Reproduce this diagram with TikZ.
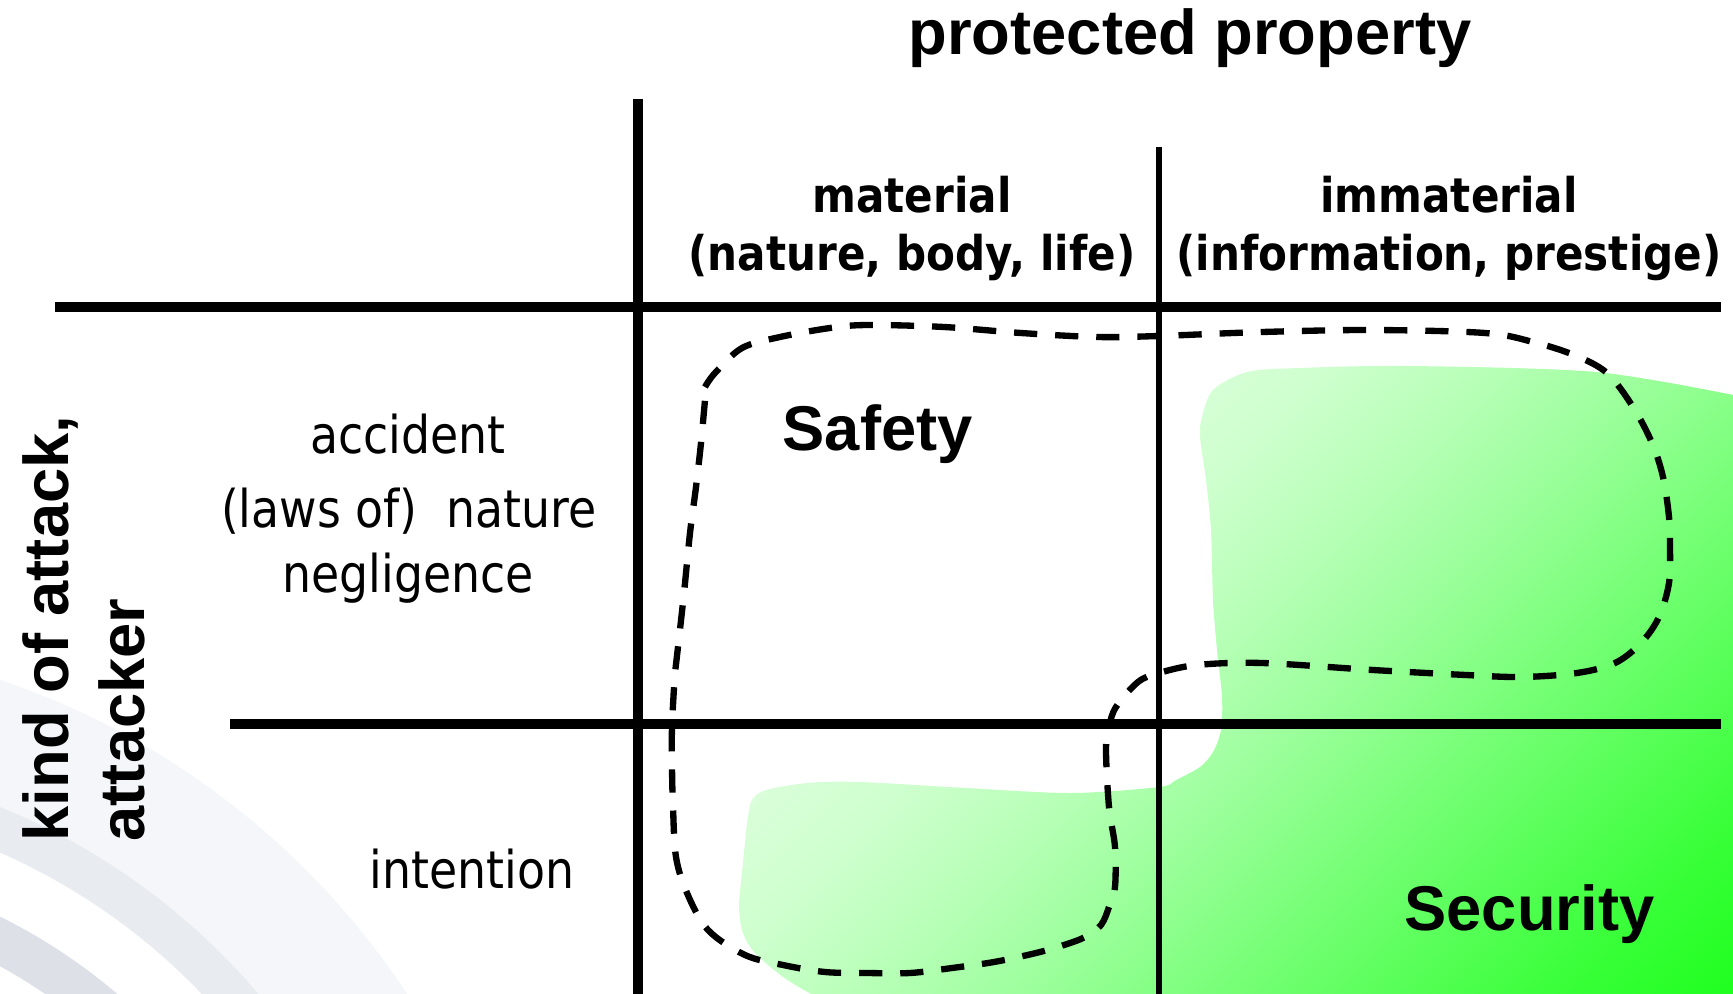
\documentclass[tikz,border=0pt]{standalone}
\usepackage{fontspec}
\setmainfont{Liberation Sans}
\newfontfamily\tah[FakeStretch=0.88]{DejaVu Sans}
\definecolor{ringA}{HTML}{F4F6F9}
\definecolor{ringB}{HTML}{E8EBEF}
\definecolor{ringC}{HTML}{DDE1E7}
\pgfdeclareverticalshading{greenblob}{100bp}{%
  rgb(0bp)=(0.12,1,0.12);
  rgb(15bp)=(0.13,1,0.13);
  rgb(22bp)=(0.22,1,0.22);
  rgb(34bp)=(0.42,1,0.42);
  rgb(40bp)=(0.52,1,0.52);
  rgb(46bp)=(0.62,1,0.62);
  rgb(52bp)=(0.71,1,0.71);
  rgb(60bp)=(0.81,1,0.81);
  rgb(70bp)=(0.88,0.995,0.88);
  rgb(86bp)=(0.94,1,0.94);
  rgb(100bp)=(0.94,1,0.94)}
\begin{document}
\begin{tikzpicture}[x=0.01cm,y=-0.01cm,
  gridthick/.style={line width=2.6pt},
  gridthin/.style={line width=1.8pt},
  region/.style={line width=1.8pt, dash pattern=on 6.6pt off 5.1pt},
  arialtitle/.style={font=\fontsize{18}{21.6}\selectfont\bfseries, inner sep=0pt},
  colhead/.style={font=\tah\fontsize{13.6}{16}\selectfont\bfseries, inner sep=0pt, anchor=base},
  rowlabel/.style={font=\tah\fontsize{14.8}{17}\selectfont, inner sep=0pt, anchor=base},
]
\useasboundingbox (0,0) rectangle (1733,994);
\fill[white] (0,0) rectangle (1733,994);
% background rings
\begin{scope}
\clip (0,0) rectangle (1733,994);
\coordinate (rc) at (-253,1429);
\fill[ringA, even odd rule] (rc) circle[radius=7.90cm] (rc) circle[radius=6.71cm];
\fill[ringB, even odd rule] (rc) circle[radius=6.71cm] (rc) circle[radius=6.29cm];
\fill[ringC, even odd rule] (rc) circle[radius=5.71cm] (rc) circle[radius=5.27cm];
\end{scope}
% green security region
\shade[shading=greenblob, shading angle=45]
  (1733,994) -- plot[smooth, tension=0.5] coordinates {
  (1733,395) (1596,372) (1410,366) (1300,368) (1247,372) (1213,390) (1202,417)
  (1200,437) (1206,480) (1211,530) (1213,600) (1217,650) (1222,697) (1221,730)
  (1213,752) (1200,767) (1176,780) (1159,787) (1071,793) (966,788) (860,782)
  (808,783) (766,790) (752,800) (748,817) (746,833) (742,873) (739,907)
  (743,933) (755,953) (783,977) (811,994)} -- cycle;
% grid
\draw[gridthick] (638,99) -- (638,994);
\draw[gridthin] (1159,147) -- (1159,994);
\draw[gridthick] (55,307) -- (1721,307);
\draw[gridthick] (230,724) -- (1721,724);
% safety region (dashed)
\draw[region] plot[smooth, tension=0.55] coordinates {
  (705,387) (715,373) (742,348) (780,337) (830,328) (868,325) (944,327)
  (1021,333) (1097,337) (1159,336) (1262,332) (1373,330) (1485,333) (1533,342)
  (1574,355) (1607,373) (1633,407) (1652,443) (1663,477) (1669,517) (1670,547)
  (1669,583) (1659,617) (1641,643) (1615,663) (1577,673) (1522,677) (1466,675)
  (1373,670) (1262,663) (1197,665) (1159,673) (1138,682) (1116,707) (1109,727)
  (1106,750) (1109,807) (1115,847) (1115,887) (1109,907) (1101,925) (1085,937)
  (1064,945) (1036,953) (994,962) (952,968) (910,973) (867,973) (825,972)
  (783,965) (745,955) (708,930) (687,893) (676,857) (673,807) (672,767)
  (672,727) (675,673) (678,647) (684,593) (690,533) (696,487) (701,443) (705,400)} -- cycle;
% texts
\node[arialtitle, anchor=base] (title) at (1190,55) {protected property};
\node[colhead] (mat) at (912,213) {material};
\node[colhead] (matsub) at (912,271) {(nature, body, life)};
\node[colhead] (imm) at (1449,213) {immaterial};
\node[colhead] (immsub) at (1449,271) {(information, prestige)};
\node[rowlabel] (acc) at (408,453) {accident};
\node[rowlabel] (laws) at (409,527) {(laws of)\ \ nature};
\node[rowlabel] (neg) at (408,592) {negligence};
\node[rowlabel, anchor=base west] (intent) at (369,888) {intention};
\node[arialtitle, anchor=base west] (safety) at (782,450) {Safety};
\node[arialtitle, anchor=base east] (security) at (1655,930) {Security};
\node[arialtitle, rotate=90, anchor=base west] (kind) at (68,842) {kind of attack,};
\node[arialtitle, rotate=90, anchor=base west] (attacker) at (144,842) {attacker};
\end{tikzpicture}
\end{document}
